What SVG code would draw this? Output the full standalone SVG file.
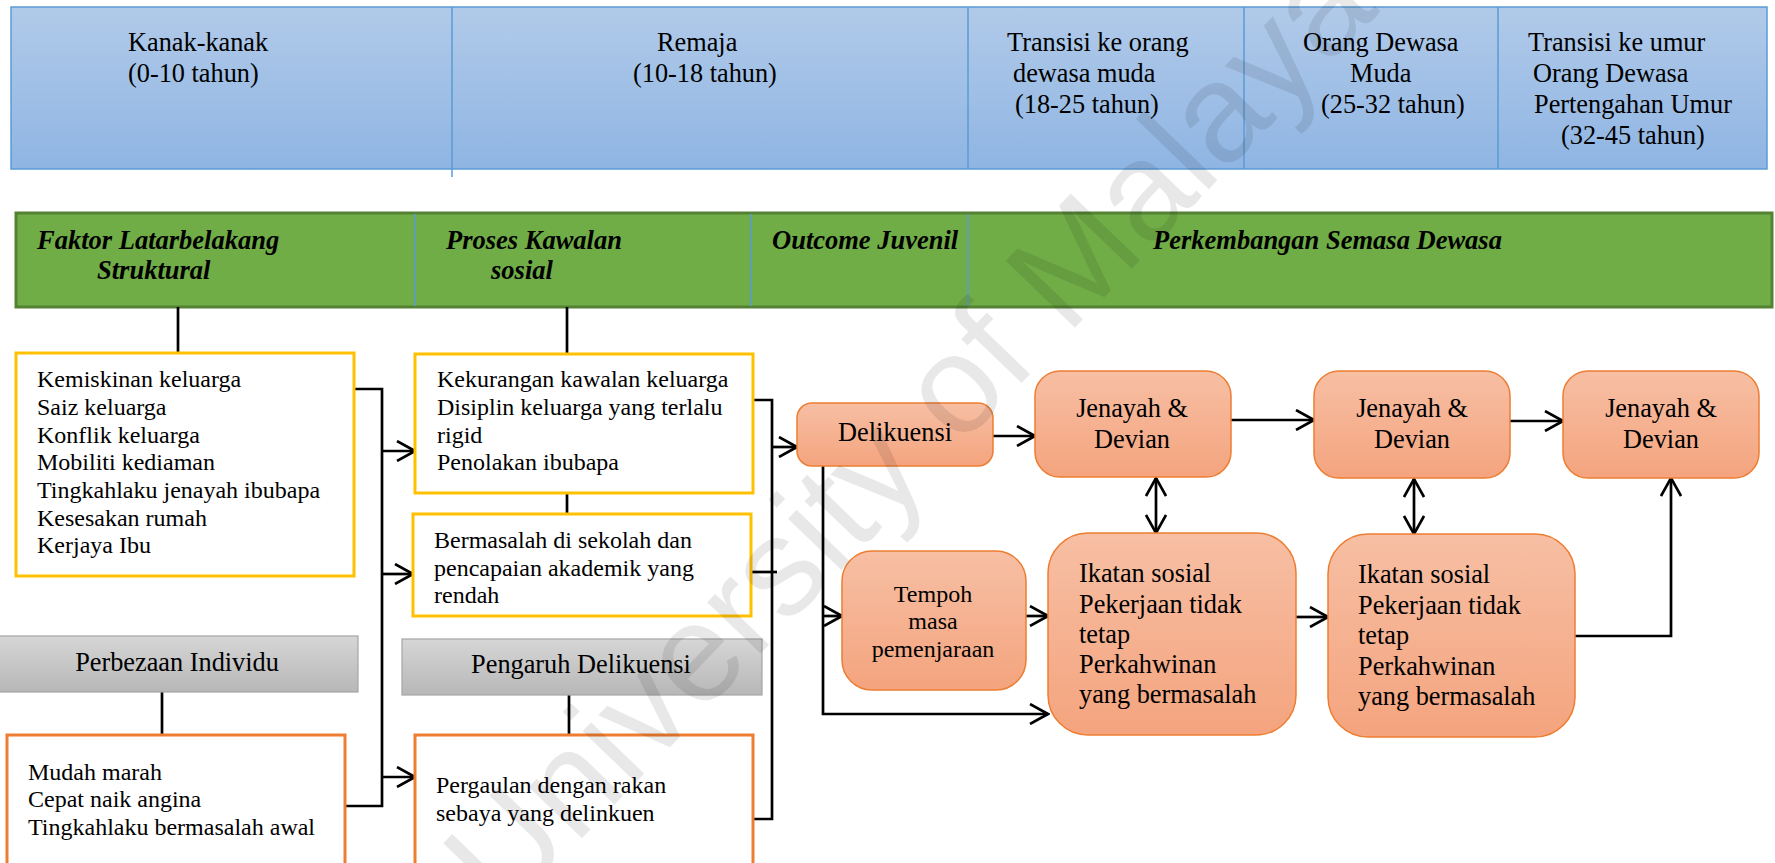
<svg xmlns="http://www.w3.org/2000/svg" width="1775" height="863" viewBox="0 0 1775 863">
<defs>
<linearGradient id="gBlue" x1="0" y1="0" x2="0" y2="1"><stop offset="0" stop-color="#b1cae9"/><stop offset="1" stop-color="#8fb5e3"/></linearGradient>
<linearGradient id="gOr" x1="0" y1="0" x2="0" y2="1"><stop offset="0" stop-color="#f7bfa4"/><stop offset="1" stop-color="#f4a47e"/></linearGradient>
<linearGradient id="gGray" x1="0" y1="0" x2="0" y2="1"><stop offset="0" stop-color="#d6d6d6"/><stop offset="1" stop-color="#b7b7b7"/></linearGradient>
<marker id="arr" viewBox="0 0 22 22" refX="20" refY="11" markerWidth="22" markerHeight="22" markerUnits="userSpaceOnUse" orient="auto-start-reverse"><path d="M2,1 L20,11 L2,21" fill="none" stroke="#000" stroke-width="2.6"/></marker>
</defs>
<style>
text{font-family:"Liberation Serif","Times New Roman",serif;fill:#000}
.hd{font-size:26.3px}
.gh{font-size:26.5px;font-weight:bold;font-style:italic}
.bt{font-size:24px}
.ot{font-size:26.3px}
.mid{text-anchor:middle}
.yb{fill:#fff;stroke:#ffc000;stroke-width:3}
.ob{fill:#fff;stroke:#ed7d31;stroke-width:3}
.gb{fill:url(#gGray);stroke:#a5a5a5;stroke-width:1.2}
.rb{fill:url(#gOr);stroke:#ed7d31;stroke-width:1.5}
.ln{fill:none;stroke:#000;stroke-width:2.7}
.ar{fill:none;stroke:#000;stroke-width:2.7;marker-end:url(#arr)}
.da{fill:none;stroke:#000;stroke-width:2.7;marker-start:url(#arr);marker-end:url(#arr)}
.bl{stroke:#5b9bd5;stroke-width:1.5}
</style>

<g id="timeline">
<rect x="11" y="7" width="1756" height="162" fill="url(#gBlue)" stroke="#5b9bd5" stroke-width="1.5"/>
<line class="bl" x1="452" y1="7" x2="452" y2="177"/>
<line class="bl" x1="968" y1="7" x2="968" y2="169"/>
<line class="bl" x1="1244" y1="7" x2="1244" y2="169"/>
<line class="bl" x1="1498" y1="7" x2="1498" y2="169"/>
<text class="hd" x="128" y="51">Kanak-kanak</text>
<text class="hd" x="128" y="82">(0-10 tahun)</text>
<text class="hd" x="657" y="51">Remaja</text>
<text class="hd" x="633" y="82">(10-18 tahun)</text>
<text class="hd" x="1007" y="51">Transisi ke orang</text>
<text class="hd" x="1013" y="82">dewasa muda</text>
<text class="hd" x="1015" y="113">(18-25 tahun)</text>
<text class="hd" x="1303" y="51">Orang Dewasa</text>
<text class="hd" x="1350" y="82">Muda</text>
<text class="hd" x="1321" y="113">(25-32 tahun)</text>
<text class="hd" x="1528" y="51">Transisi ke umur</text>
<text class="hd" x="1533" y="82">Orang Dewasa</text>
<text class="hd" x="1534" y="113">Pertengahan Umur</text>
<text class="hd" x="1561" y="144">(32-45 tahun)</text>
</g>

<g id="stages">
<rect x="16" y="213" width="1756" height="94" fill="#70ad47" stroke="#548235" stroke-width="3"/>
<line class="bl" x1="415" y1="214" x2="415" y2="306" stroke-width="1"/>
<line class="bl" x1="751" y1="214" x2="751" y2="306" stroke-width="1"/>
<line class="bl" x1="968" y1="214" x2="968" y2="306" stroke-width="1"/>
<text class="gh" x="37" y="249">Faktor Latarbelakang</text>
<text class="gh" x="97" y="279">Struktural</text>
<text class="gh" x="446" y="249">Proses Kawalan</text>
<text class="gh" x="491" y="279">sosial</text>
<text class="gh" x="772" y="249">Outcome Juvenil</text>
<text class="gh" x="1153" y="249">Perkembangan Semasa Dewasa</text>
</g>

<g id="connectors">
<path class="ln" d="M178,307 V353"/>
<path class="ln" d="M567,307 V354"/>
<path class="ln" d="M567,493 V514"/>
<path class="ln" d="M162,692 V735"/>
<path class="ln" d="M569,689 V735"/>
<path class="ln" d="M354,389 H382 V806 H345"/>
<path class="ar" d="M382,451 H415"/>
<path class="ar" d="M382,574 H413"/>
<path class="ar" d="M382,777 H415"/>
<path class="ln" d="M753,400 H772 V819 H753"/>
<path class="ln" d="M751,572 H777"/>
<path class="ar" d="M772,447 H797"/>
<path class="ar" d="M993,436 H1035"/>
<path class="ar" d="M1231,420 H1314"/>
<path class="ar" d="M1510,421 H1563"/>
<path class="da" d="M1156,478 V533"/>
<path class="da" d="M1414,479 V534"/>
<path class="ar" d="M823,466 V714 H1048"/>
<path class="ar" d="M823,616 H842"/>
<path class="ar" d="M1026,616 H1048"/>
<path class="ar" d="M1296,617 H1328"/>
<path class="ar" d="M1575,636 H1671 V478"/>
</g>

<g id="struktural">
<rect class="yb" x="16" y="353" width="338" height="223"/>
<text class="bt" x="37" y="387">Kemiskinan keluarga</text>
<text class="bt" x="37" y="415">Saiz keluarga</text>
<text class="bt" x="37" y="443">Konflik keluarga</text>
<text class="bt" x="37" y="470">Mobiliti kediaman</text>
<text class="bt" x="37" y="498">Tingkahlaku jenayah ibubapa</text>
<text class="bt" x="37" y="526">Kesesakan rumah</text>
<text class="bt" x="37" y="553">Kerjaya Ibu</text>
</g>

<g id="kawalan-keluarga">
<rect class="yb" x="415" y="354" width="338" height="139"/>
<text class="bt" x="437" y="387">Kekurangan kawalan keluarga</text>
<text class="bt" x="437" y="415">Disiplin keluarga yang terlalu</text>
<text class="bt" x="437" y="443">rigid</text>
<text class="bt" x="437" y="470">Penolakan ibubapa</text>
</g>

<g id="sekolah">
<rect class="yb" x="413" y="514" width="338" height="102"/>
<text class="bt" x="434" y="548">Bermasalah di sekolah dan</text>
<text class="bt" x="434" y="576">pencapaian akademik yang</text>
<text class="bt" x="434" y="603">rendah</text>
</g>

<g id="perbezaan-individu">
<rect class="gb" x="-2" y="636" width="360" height="56"/>
<text class="ot mid" x="177" y="671">Perbezaan Individu</text>
</g>

<g id="individu">
<rect class="ob" x="7" y="735" width="338" height="145"/>
<text class="bt" x="28" y="780">Mudah marah</text>
<text class="bt" x="28" y="807">Cepat naik angina</text>
<text class="bt" x="28" y="835">Tingkahlaku bermasalah awal</text>
</g>

<g id="pengaruh-delikuensi">
<rect class="gb" x="402" y="639" width="360" height="56"/>
<text class="ot mid" x="581" y="673">Pengaruh Delikuensi</text>
</g>

<g id="rakan-sebaya">
<rect class="ob" x="415" y="735" width="338" height="145"/>
<text class="bt" x="436" y="793">Pergaulan dengan rakan</text>
<text class="bt" x="436" y="821">sebaya yang delinkuen</text>
</g>

<g id="delikuensi">
<rect class="rb" x="797" y="403" width="196" height="63" rx="15"/>
<text class="ot mid" x="895" y="441">Delikuensi</text>
</g>

<g id="tempoh">
<rect class="rb" x="842" y="551" width="184" height="139" rx="30"/>
<text class="bt mid" x="933" y="602">Tempoh</text>
<text class="bt mid" x="933" y="629">masa</text>
<text class="bt mid" x="933" y="657">pemenjaraan</text>
</g>

<g id="jenayah1">
<rect class="rb" x="1035" y="371" width="196" height="106" rx="25"/>
<text class="ot mid" x="1132" y="417">Jenayah &amp;</text>
<text class="ot mid" x="1132" y="448">Devian</text>
</g>

<g id="jenayah2">
<rect class="rb" x="1314" y="371" width="196" height="107" rx="25"/>
<text class="ot mid" x="1412" y="417">Jenayah &amp;</text>
<text class="ot mid" x="1412" y="448">Devian</text>
</g>

<g id="jenayah3">
<rect class="rb" x="1563" y="371" width="196" height="107" rx="25"/>
<text class="ot mid" x="1661" y="417">Jenayah &amp;</text>
<text class="ot mid" x="1661" y="448">Devian</text>
</g>

<g id="ikatan1">
<rect class="rb" x="1048" y="533" width="248" height="202" rx="40"/>
<text class="ot" x="1079" y="582">Ikatan sosial</text>
<text class="ot" x="1079" y="613">Pekerjaan tidak</text>
<text class="ot" x="1079" y="643">tetap</text>
<text class="ot" x="1079" y="673">Perkahwinan</text>
<text class="ot" x="1079" y="703">yang bermasalah</text>
</g>

<g id="ikatan2">
<rect class="rb" x="1328" y="534" width="247" height="203" rx="40"/>
<text class="ot" x="1358" y="583">Ikatan sosial</text>
<text class="ot" x="1358" y="614">Pekerjaan tidak</text>
<text class="ot" x="1358" y="644">tetap</text>
<text class="ot" x="1358" y="675">Perkahwinan</text>
<text class="ot" x="1358" y="705">yang bermasalah</text>
</g>

<g id="watermark">
<text x="0" y="0" transform="translate(505,918) rotate(-46)" style="font-family:'Liberation Sans',Arial,sans-serif;font-size:140px;fill:#000;fill-opacity:0.09">University of Malaya</text>
</g>
</svg>
